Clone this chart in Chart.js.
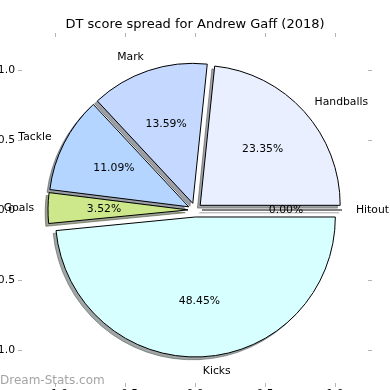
<!DOCTYPE html>
<html lang="en">
<head>
    <meta charset="UTF-8">
    <title>DT score spread for Andrew Gaff (2018)</title>
    <script src="https://cdn.jsdelivr.net/npm/chart.js@4"></script>
    <style>
        html, body {
            margin: 0;
            padding: 0;
            width: 390px;
            height: 390px;
            overflow: hidden;
            background: #ffffff;
        }
        .stage { position: relative; width: 390px; height: 390px; }
        #axesChart, #pieChart { position: absolute; left: 0; top: 0; }
        .watermark {
            position: absolute;
            left: 0;
            top: 374px;
            font-family: 'DejaVu Sans', sans-serif;
            font-size: 12px;
            line-height: 1;
            color: #a4a4a4;
        }
    </style>
</head>
<body>
<div class="stage">
    <canvas id="axesChart" width="390" height="420"></canvas>
    <canvas id="pieChart" width="390" height="390"></canvas>
    <div class="watermark">Dream-Stats.com</div>
</div>

<script>
    // data, in the order the original pie lists it (counter-clockwise from 3 o'clock)
    const categories = ['Handballs', 'Mark', 'Tackle', 'Goals', 'Kicks', 'Hitout'];
    const shares = [23.35, 13.59, 11.09, 3.52, 48.45, 0.00];
    const sliceColors = ['#e9efff', '#c5d8ff', '#b3d5ff', '#cde88a', '#d8ffff', '#ffffff'];
    const axisTicks = [-1.0, -0.5, 0.0, 0.5, 1.0];
    const chartTitle = 'DT score spread for Andrew Gaff (2018)';

    const FONT = 'DejaVu Sans';
    const EXPLODE = 0.05;       // wedge push-out, fraction of radius
    const SHADOW_SHIFT = 0.02;  // shadow offset, fraction of radius
    const LIM = 346 / 280;      // axis half range so 1 unit = 140px

    // Chart.js goes clockwise, so feed it the slices reversed
    const cwLabels = categories.slice().reverse();
    const cwValues = shares.slice().reverse();
    const cwColors = sliceColors.slice().reverse();

    function shade(hex) {
        const n = parseInt(hex.slice(1), 16);
        const r = Math.round(((n >> 16) & 255) * 0.3);
        const g = Math.round(((n >> 8) & 255) * 0.3);
        const b = Math.round((n & 255) * 0.3);
        return 'rgba(' + r + ',' + g + ',' + b + ',0.5)';
    }

    // a 0% wedge is only its edge line
    function spoke(ctx, p, color, width) {
        ctx.beginPath();
        ctx.moveTo(p.x, p.y);
        ctx.lineTo(p.x + Math.cos(p.startAngle) * p.outerRadius, p.y + Math.sin(p.startAngle) * p.outerRadius);
        ctx.strokeStyle = color;
        ctx.lineWidth = width;
        ctx.stroke();
    }

    const explodedPie = {
        id: 'explodedPie',
        beforeDatasetDraw(chart, args) {
            const ctx = chart.ctx;
            const values = chart.data.datasets[0].data;
            const total = values.reduce((a, b) => a + b, 0);
            const geo = args.meta.data.map(arc => {
                const p = arc.getProps(['x', 'y', 'startAngle', 'endAngle', 'outerRadius', 'circumference']);
                const mid = (p.startAngle + p.endAngle) / 2;
                const d = EXPLODE * p.outerRadius;
                return { arc, p, mid, dx: Math.cos(mid) * d, dy: Math.sin(mid) * d };
            });

            // shadows first, under every wedge
            geo.forEach(g => {
                const o = g.arc.options;
                const c = shade(o.backgroundColor);
                const s = SHADOW_SHIFT * g.p.outerRadius;
                ctx.save();
                ctx.translate(g.dx - s, g.dy + s);
                if (g.p.circumference > 0) {
                    g.arc.options = Object.assign({}, o, { backgroundColor: c, borderColor: c });
                    g.arc.draw(ctx);
                    g.arc.options = o;
                } else {
                    spoke(ctx, g.p, c, o.borderWidth);
                }
                ctx.restore();
            });

            // wedges
            geo.forEach(g => {
                ctx.save();
                ctx.translate(g.dx, g.dy);
                if (g.p.circumference > 0) {
                    g.arc.draw(ctx);
                } else {
                    spoke(ctx, g.p, g.arc.options.borderColor, g.arc.options.borderWidth);
                }
                ctx.restore();
            });

            // labels and percentages
            ctx.save();
            ctx.fillStyle = '#000000';
            ctx.font = '10.8px "' + FONT + '"';
            ctx.textBaseline = 'middle';
            geo.forEach((g, i) => {
                const cx = g.p.x + g.dx;
                const cy = g.p.y + g.dy;
                const r = g.p.outerRadius;
                const lx = cx + Math.cos(g.mid) * r * 1.1;
                const ly = cy + Math.sin(g.mid) * r * 1.1;
                ctx.textAlign = lx > g.p.x ? 'left' : 'right';
                ctx.fillText(chart.data.labels[i], lx, ly);

                ctx.textAlign = 'center';
                const pct = (values[i] / total * 100).toFixed(2) + '%';
                ctx.fillText(pct, cx + Math.cos(g.mid) * r * 0.6, cy + Math.sin(g.mid) * r * 0.6);
            });
            ctx.restore();
            return false;
        }
    };

    // background axes: tick marks on all four sides, labels left and bottom
    const tickGrid = {
        display: true,
        drawOnChartArea: false,
        drawTicks: true,
        tickLength: 4,
        tickWidth: 1,
        tickColor: '#b4b4b4'
    };
    const fixedTicks = scale => { scale.ticks = axisTicks.map(v => ({ value: v })); };
    const tickText = v => (v < 0 ? '\u2212' : '') + Math.abs(v).toFixed(1);
    const tickFont = { family: FONT, size: 10.8 };

    new Chart(document.getElementById('axesChart'), {
        type: 'scatter',
        data: { datasets: [] },
        options: {
            responsive: false,
            animation: false,
            events: [],
            layout: { padding: 0 },
            plugins: {
                legend: { display: false },
                tooltip: { enabled: false },
                title: {
                    display: true,
                    text: chartTitle,
                    color: '#000000',
                    font: { family: FONT, size: 13, weight: 'normal' },
                    padding: { top: 17, bottom: 0 }
                }
            },
            scales: {
                x: {
                    type: 'linear', position: 'bottom', min: -LIM, max: LIM,
                    border: { display: false }, grid: tickGrid,
                    afterBuildTicks: fixedTicks,
                    ticks: { color: '#000000', font: tickFont, padding: 1, maxRotation: 0, autoSkip: false, callback: tickText },
                    afterFit: s => { s.height = 420 - 383; }
                },
                x2: {
                    type: 'linear', position: 'top', min: -LIM, max: LIM,
                    border: { display: false }, grid: tickGrid,
                    afterBuildTicks: fixedTicks,
                    ticks: { display: false },
                    afterFit: s => { s.height = 37 - (13 * 1.2 + 17); }
                },
                y: {
                    type: 'linear', position: 'left', min: -LIM, max: LIM,
                    border: { display: false }, grid: tickGrid,
                    afterBuildTicks: fixedTicks,
                    ticks: { color: '#000000', font: tickFont, padding: 3, autoSkip: false, callback: tickText },
                    afterFit: s => { s.width = 22; }
                },
                y2: {
                    type: 'linear', position: 'right', min: -LIM, max: LIM,
                    border: { display: false }, grid: tickGrid,
                    afterBuildTicks: fixedTicks,
                    ticks: { display: false },
                    afterFit: s => { s.width = 22; }
                }
            }
        }
    });

    new Chart(document.getElementById('pieChart'), {
        type: 'pie',
        data: {
            labels: cwLabels,
            datasets: [{
                data: cwValues,
                backgroundColor: cwColors,
                borderColor: '#000000',
                borderWidth: 1,
                borderJoinStyle: 'miter',
                hoverOffset: 0
            }]
        },
        options: {
            responsive: false,
            animation: false,
            events: [],
            rotation: 90,
            radius: 140,
            layout: { padding: { top: 30, bottom: 0, left: 0, right: 0 } },
            plugins: {
                legend: { display: false },
                tooltip: { enabled: false }
            }
        },
        plugins: [explodedPie]
    });
</script>
</body>
</html>
